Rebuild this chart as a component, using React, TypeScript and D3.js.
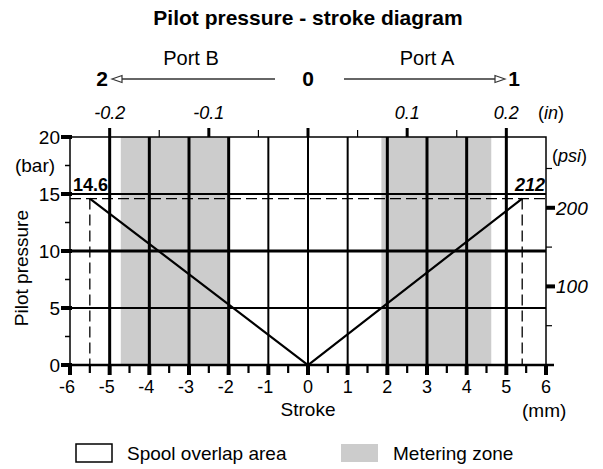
import React from "react";
import * as d3 from "d3";

// stroke axis (mm) and pressure axis (bar)
const strokeTicks = [-6, -5, -4, -3, -2, -1, 0, 1, 2, 3, 4, 5, 6];
const gridStroke = [-5, -4, -3, -2, -1, 0, 1, 2, 3, 4, 5];
const pressureTicks = [0, 5, 10, 15, 20];
const pressureGrid = [5, 10, 15];
const inchTicks = [-0.2, -0.1, 0.1, 0.2];
const inchMinor = [-0.15, -0.05, 0, 0.05, 0.15];
const psiLabels = [100, 200];
const psiTicks = [50, 100, 150, 200, 250];

// metering zones (mm)
const meteringZones = [
  [-4.72, -2.0],
  [1.85, 4.62],
];

// pilot pressure curve: stroke (mm) vs pressure (bar)
const curve = [
  { stroke: -5.5, bar: 14.6 },
  { stroke: 0, bar: 0 },
  { stroke: 5.4, bar: 14.6 },
];
const maxBar = 14.6;
const maxPsi = 212;

const font = "'Liberation Sans', Arial, sans-serif";

const App = () => {
  const width = 603;
  const height = 469;
  const x = d3.scaleLinear().domain([-6, 6]).range([70, 546]);
  const y = d3.scaleLinear().domain([0, 20]).range([365, 137]);
  // inch scale as drawn in the original (0.2 in sits on 5 mm)
  const xIn = d3.scaleLinear().domain([-0.24, 0.24]).range([70, 546]);
  const yPsi = d3.scaleLinear().domain([0, 20 * 14.5038]).range([365, 137]);

  const line = d3
    .line<{ stroke: number; bar: number }>()
    .x((d) => x(d.stroke))
    .y((d) => y(d.bar));

  const halfTicks = d3.range(-6, 6.01, 0.5);
  const minorBar = [2.5, 7.5, 12.5, 17.5];

  return (
    <svg width={width} height={height} style={{ display: "block", position: "absolute", left: 0, top: 0 }} fontFamily={font}>
      {/* title */}
      <text x={308} y={25} textAnchor="middle" fontSize={21} fontWeight="bold">
        Pilot pressure - stroke diagram
      </text>

      {/* port arrows */}
      <text x={191} y={65} textAnchor="middle" fontSize={20}>Port B</text>
      <text x={427} y={65} textAnchor="middle" fontSize={20}>Port A</text>
      <text x={102} y={86} textAnchor="middle" fontSize={21} fontWeight="bold">2</text>
      <text x={308} y={86} textAnchor="middle" fontSize={21} fontWeight="bold">0</text>
      <text x={514} y={86} textAnchor="middle" fontSize={21} fontWeight="bold">1</text>
      <line x1={275} y1={79} x2={120} y2={79} stroke="#333" strokeWidth={1.5} />
      <path d="M112,79 L122,75.5 L122,82.5 Z" fill="white" stroke="#333" strokeWidth={1.2} />
      <line x1={344} y1={79} x2={497} y2={79} stroke="#333" strokeWidth={1.5} />
      <path d="M505,79 L495,75.5 L495,82.5 Z" fill="white" stroke="#333" strokeWidth={1.2} />

      {/* metering zones */}
      {meteringZones.map(([a, b], i) => (
        <rect key={i} x={x(a)} y={y(20)} width={x(b) - x(a)} height={y(0) - y(20)} fill="#cccccc" />
      ))}

      {/* vertical grid */}
      {gridStroke.map((v) => (
        <line
          key={v}
          x1={x(v)}
          x2={x(v)}
          y1={y(20)}
          y2={y(0)}
          stroke="black"
          strokeWidth={Math.abs(v) <= 1 ? 2 : 3}
        />
      ))}

      {/* horizontal grid */}
      {pressureGrid.map((v) => (
        <line key={v} x1={x(-6)} x2={x(6)} y1={y(v)} y2={y(v)} stroke="black" strokeWidth={v === 10 ? 3 : 2} />
      ))}

      {/* frame */}
      <rect x={x(-6)} y={y(20)} width={x(6) - x(-6)} height={y(0) - y(20)} fill="none" stroke="black" strokeWidth={1.5} />

      {/* dashed limit lines */}
      <line x1={x(-6)} x2={x(6)} y1={y(maxBar)} y2={y(maxBar)} stroke="black" strokeWidth={1.3} strokeDasharray="11,5" />
      {[curve[0].stroke, curve[2].stroke].map((v) => (
        <line key={v} x1={x(v)} x2={x(v)} y1={y(maxBar)} y2={y(0)} stroke="black" strokeWidth={1.3} strokeDasharray="11,5" />
      ))}

      {/* pressure curve */}
      <path d={line(curve) || ""} fill="none" stroke="black" strokeWidth={2.2} />

      <text x={x(-6) + 3} y={y(maxBar) - 8} fontSize={18} fontWeight="bold">{maxBar}</text>
      <text x={x(6) - 1} y={y(maxBar) - 8} textAnchor="end" fontSize={18} fontWeight="bold" fontStyle="italic">{maxPsi}</text>

      {/* bottom axis */}
      <line x1={x(-6)} x2={x(6) + 8} y1={y(0)} y2={y(0)} stroke="black" strokeWidth={2.5} />
      {halfTicks.map((v) => {
        const major = Math.abs(v - Math.round(v)) < 0.01;
        return (
          <line
            key={v}
            x1={x(v)}
            x2={x(v)}
            y1={y(0)}
            y2={y(0) + (major ? 10 : 8)}
            stroke="black"
            strokeWidth={major ? 4 : 2.2}
          />
        );
      })}
      {strokeTicks.map((v) => (
        <text key={v} x={x(v) - (v < 0 ? 3 : 0)} y={y(0) + 28} textAnchor="middle" fontSize={18}>
          {v < 0 ? `-${Math.abs(v)}` : v}
        </text>
      ))}
      <text x={x(0)} y={y(0) + 51} textAnchor="middle" fontSize={19}>Stroke</text>
      <text x={x(6) - 24} y={y(0) + 52} fontSize={19}>(mm)</text>

      {/* left axis */}
      {pressureTicks.map((v) => (
        <g key={v}>
          <line x1={x(-6) - 9} x2={x(-6) + 2} y1={y(v)} y2={y(v)} stroke="black" strokeWidth={4} />
          <text x={x(-6) - 10} y={y(v) + 7} textAnchor="end" fontSize={19}>{v}</text>
        </g>
      ))}
      {minorBar.map((v) => (
        <line key={v} x1={x(-6) - 5} x2={x(-6)} y1={y(v)} y2={y(v)} stroke="black" strokeWidth={1.5} />
      ))}
      <text x={35} y={y(17.5) + 6} textAnchor="middle" fontSize={19}>(bar)</text>
      <text transform={`translate(28, ${y(8.5)}) rotate(-90)`} textAnchor="middle" fontSize={19}>Pilot pressure</text>

      {/* top inch axis */}
      {inchTicks.map((v) => (
        <g key={v}>
          <line x1={xIn(v)} x2={xIn(v)} y1={y(20)} y2={y(20) - 9} stroke="black" strokeWidth={3} />
          <text x={xIn(v)} y={y(20) - 18} textAnchor="middle" fontSize={18} fontStyle="italic">{v}</text>
        </g>
      ))}
      {inchMinor.map((v) => (
        <line
          key={v}
          x1={xIn(v)}
          x2={xIn(v)}
          y1={y(20)}
          y2={y(20) - (v === 0 ? 9 : 7)}
          stroke="black"
          strokeWidth={v === 0 ? 3 : 1.2}
        />
      ))}
      <text x={538} y={y(20) - 18} fontSize={18}>
        (<tspan fontStyle="italic">in</tspan>)
      </text>

      {/* right psi axis */}
      {psiTicks.map((v) => {
        const major = v % 100 === 0;
        return (
          <line
            key={v}
            x1={x(6)}
            x2={x(6) + (major ? 9 : 6)}
            y1={yPsi(v)}
            y2={yPsi(v)}
            stroke="black"
            strokeWidth={major ? 4 : 1.2}
          />
        );
      })}
      {psiLabels.map((v) => (
        <text key={v} x={x(6) + 10} y={yPsi(v) + 7} fontSize={19} fontStyle="italic">{v}</text>
      ))}
      <text x={x(6) + 6} y={yPsi(250) - 6} fontSize={18}>
        (<tspan fontStyle="italic">psi</tspan>)
      </text>

      {/* legend */}
      <rect x={76} y={444} width={36} height={18} fill="white" stroke="black" strokeWidth={1.5} />
      <text x={127} y={460} fontSize={19}>Spool overlap area</text>
      <rect x={341} y={444} width={37} height={18} fill="#cccccc" />
      <text x={393} y={460} fontSize={19}>Metering zone</text>
    </svg>
  );
};

export default App;
